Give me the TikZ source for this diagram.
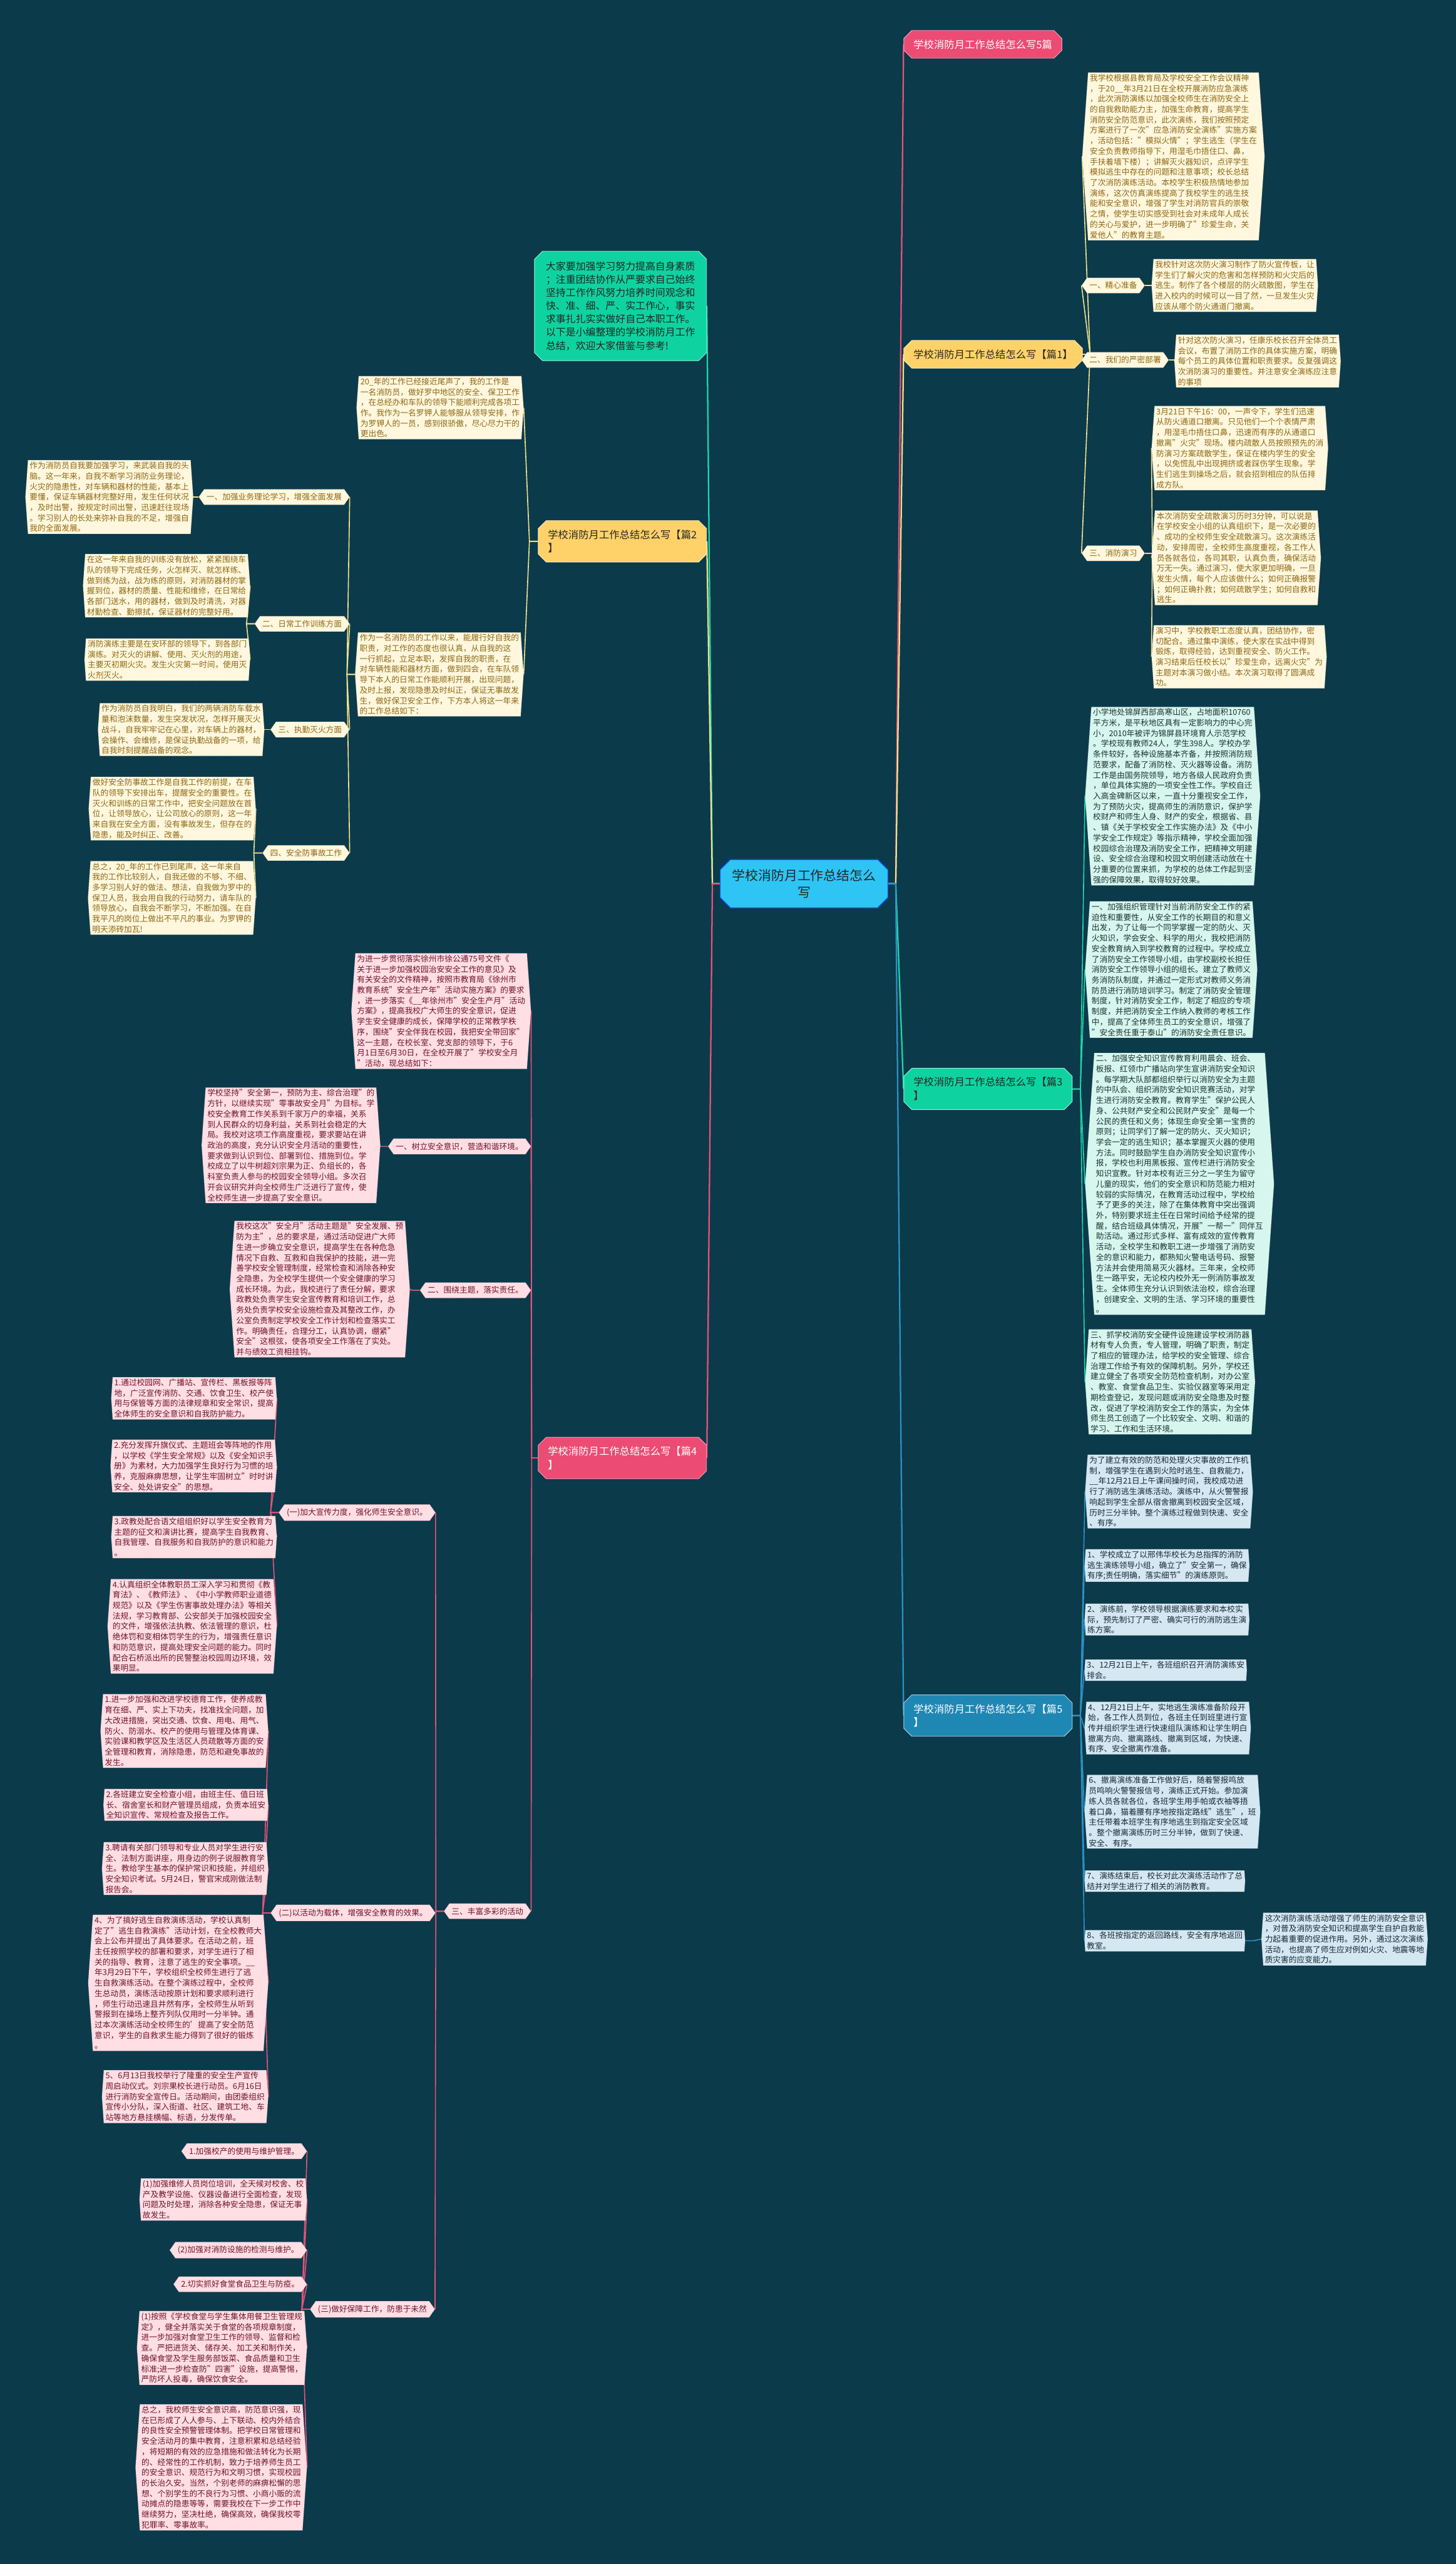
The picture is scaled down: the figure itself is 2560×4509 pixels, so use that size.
\documentclass[tikz,border=0pt]{standalone}
\usepackage{fontspec}
\setmainfont{Noto Sans CJK SC}
\usetikzlibrary{shapes.misc,shapes.symbols,backgrounds}
\definecolor{bgc}{RGB}{11,58,75}
\definecolor{pinkM}{RGB}{236,75,115}
\definecolor{yellowM}{RGB}{255,210,105}
\definecolor{greenM}{RGB}{14,211,160}
\definecolor{blueM}{RGB}{30,135,180}
\definecolor{centerC}{RGB}{46,197,245}
\definecolor{creamY}{RGB}{255,247,222}
\definecolor{txtY}{RGB}{140,105,20}
\definecolor{mintG}{RGB}{215,247,238}
\definecolor{txtG}{RGB}{30,50,50}
\definecolor{lightB}{RGB}{212,232,242}
\definecolor{txtB}{RGB}{25,40,55}
\definecolor{lightP}{RGB}{255,222,228}
\definecolor{txtP}{RGB}{110,20,45}
\definecolor{eY}{RGB}{240,225,140}
\definecolor{eG}{RGB}{30,215,170}
\definecolor{eB}{RGB}{45,145,195}
\definecolor{eP}{RGB}{232,82,120}
\tikzset{
  mainbox/.style={chamfered rectangle, chamfered rectangle xsep=7pt, chamfered rectangle ysep=7pt,
    font=\fontsize{18}{24}\selectfont, align=left, inner xsep=10pt, inner ysep=9pt, line width=1pt},
  small/.style={font=\fontsize{14}{18.4}\selectfont},
  hexbox/.style={signal, signal to=east and west, signal pointer angle=172, small, align=left,
    inner xsep=3pt, inner ysep=3pt, densely dotted, line width=0.5pt},
  hexlab/.style={signal, signal to=east and west, signal pointer angle=110, small,
    inner xsep=4pt, inner ysep=7pt, densely dotted, line width=0.5pt},
  blockY/.style={hexbox, fill=creamY, draw=txtY!50, text=txtY},
  blockG/.style={hexbox, fill=mintG, draw=txtG!50, text=txtG},
  blockB/.style={hexbox, fill=lightB, draw=txtB!50, text=txtB},
  blockP/.style={hexbox, fill=lightP, draw=txtP!50, text=txtP},
  labY/.style={hexlab, fill=creamY, draw=txtY!50, text=txtY},
  labP/.style={hexlab, fill=lightP, draw=txtP!50, text=txtP},
  mainlink/.style={line width=2.5pt},
  sublink/.style={line width=1.8pt}
}
\begin{document}
\begin{tikzpicture}[x=1pt,y=-1pt]
\useasboundingbox (0,0) rectangle (2560,4509);
% centre
\node[chamfered rectangle, chamfered rectangle xsep=9pt, chamfered rectangle ysep=9pt, fill=centerC,
  draw=blue!60!centerC, line width=1.5pt, text=black!85, font=\fontsize{23}{30}\selectfont, align=center,
  minimum width=295pt, minimum height=85pt] (c) at (1414,1554) {学校消防月工作总结怎么\\写};

% right side
\node[mainbox, fill=pinkM, draw=pinkM!50!white, text=white, minimum width=255pt, anchor=west] (n5p) at (1589,78) {学校消防月工作总结怎么写5篇};
\node[mainbox, fill=yellowM, draw=white!60!yellowM, text=black!85, minimum width=288pt, anchor=west] (n1) at (1589,623) {学校消防月工作总结怎么写【篇1】};
\node[blockY, anchor=west] (t1a) at (1903,275) {我学校根据县教育局及学校安全工作会议精神\\，于20\_\_年3月21日在全校开展消防应急演练\\，此次消防演练以加强全校师生在消防安全上\\的自我救助能力主，加强生命教育，提高学生\\消防安全防范意识，此次演练，我们按照预定\\方案进行了一次"应急消防安全演练"实施方案\\，活动包括："模拟火情"；学生逃生（学生在\\安全负责教师指导下，用湿毛巾捂住口、鼻，\\手扶着墙下楼）；讲解灭火器知识，点评学生\\模拟逃生中存在的问题和注意事项；校长总结\\了次消防演练活动。本校学生积极热情地参加\\演练，这次仿真演练提高了我校学生的逃生技\\能和安全意识，增强了学生对消防官兵的崇敬\\之情，使学生切实感受到社会对未成年人成长\\的关心与爱护，进一步明确了"珍爱生命，关\\爱他人"的教育主题。};
\node[labY, anchor=west] (l11) at (1902,502) {一、精心准备};
\node[blockY, anchor=west] (t1b) at (2025,502) {我校针对这次防火演习制作了防火宣传板，让\\学生们了解火灾的危害和怎样预防和火灾后的\\逃生。制作了各个楼层的防火疏散图，学生在\\进入校内的时候可以一目了然，一旦发生火灾\\应该从哪个防火通道门撤离。};
\node[labY, anchor=west] (l12) at (1902,633) {二、我们的严密部署};
\node[blockY, anchor=west] (t1c) at (2065,635) {针对这次防火演习，任康乐校长召开全体员工\\会议，布置了消防工作的具体实施方案，明确\\每个员工的具体位置和职责要求。反复强调这\\次消防演习的重要性。并注意安全演练应注意\\的事项};
\node[labY, anchor=west] (l13) at (1902,973) {三、消防演习};
\node[blockY, anchor=west] (t1d) at (2025,788) {3月21日下午16：00，一声令下，学生们迅速\\从防火通道口撤离。只见他们一个个表情严肃\\，用湿毛巾捂住口鼻，迅速而有序的从通道口\\撤离"火灾"现场。楼内疏散人员按照预先的消\\防演习方案疏散学生，保证在楼内学生的安全\\，以免慌乱中出现拥挤或者踩伤学生现象。学\\生们逃生到操场之后，就会招到相应的队伍排\\成方队。};
\node[blockY, anchor=west] (t1e) at (2025,981) {本次消防安全疏散演习历时3分钟，可以说是\\在学校安全小组的认真组织下，是一次必要的\\、成功的全校师生安全疏散演习。这次演练活\\动，安排周密，全校师生高度重视，各工作人\\员各就各位，各司其职，认真负责，确保活动\\万无一失。通过演习，使大家更加明确，一旦\\发生火情，每个人应该做什么；如何正确报警\\；如何正确扑救；如何疏散学生；如何自救和\\逃生。};
\node[blockY, anchor=west] (t1f) at (2025,1155) {演习中，学校教职工态度认真，团结协作，密\\切配合。通过集中演练，使大家在实战中得到\\锻炼，取得经验，达到重视安全、防火工作。\\演习结束后任校长以"珍爱生命，远离火灾"为\\主题对本演习做小结。本次演习取得了圆满成\\功。};

\node[mainbox, fill=greenM, draw=white!60!greenM, text=black!85, minimum width=290pt, anchor=west] (n3) at (1589,1915) {学校消防月工作总结怎么写【篇3\\】};
\node[blockG, anchor=west] (t3a) at (1908,1400) {小学地处锦屏西部高寒山区，占地面积10760\\平方米，是平秋地区具有一定影响力的中心完\\小，2010年被评为锦屏县环境育人示范学校\\。学校现有教师24人，学生398人。学校办学\\条件较好，各种设施基本齐备，并按照消防规\\范要求，配备了消防栓、灭火器等设备。消防\\工作是由国务院领导，地方各级人民政府负责\\，单位具体实施的一项安全性工作。学校自迁\\入高金碑新区以来，一直十分重视安全工作，\\为了预防火灾，提高师生的消防意识，保护学\\校财产和师生人身、财产的安全，根据省、县\\、镇《关于学校安全工作实施办法》及《中小\\学安全工作规定》等指示精神，学校全面加强\\校园综合治理及消防安全工作，把精神文明建\\设、安全综合治理和校园文明创建活动放在十\\分重要的位置来抓，为学校的总体工作起到坚\\强的保障效果，取得较好效果。};
\node[blockG, anchor=west] (t3b) at (1908,1705) {一、加强组织管理针对当前消防安全工作的紧\\迫性和重要性，从安全工作的长期目的和意义\\出发，为了让每一个同学掌握一定的防火、灭\\火知识，学会安全、科学的用火，我校把消防\\安全教育纳入到学校教育的过程中。学校成立\\了消防安全工作领导小组，由学校副校长担任\\消防安全工作领导小组的组长。建立了教师义\\务消防队制度，并通过一定形式对教师义务消\\防员进行消防培训学习。制定了消防安全管理\\制度，针对消防安全工作，制定了相应的专项\\制度，并把消防安全工作纳入教师的考核工作\\中，提高了全体师生员工的安全意识，增强了\\"安全责任重于泰山"的消防安全责任意识。};
\node[blockG, anchor=west] (t3c) at (1908,2082) {二、加强安全知识宣传教育利用晨会、班会、\\板报、红领巾广播站向学生宣讲消防安全知识\\。每学期大队部都组织举行以消防安全为主题\\的中队会、组织消防安全知识竞赛活动，对学\\生进行消防安全教育。教育学生"保护公民人\\身、公共财产安全和公民财产安全"是每一个\\公民的责任和义务；体现生命安全第一宝贵的\\原则；让同学们了解一定的防火、灭火知识；\\学会一定的逃生知识；基本掌握灭火器的使用\\方法。同时鼓励学生自办消防安全知识宣传小\\报，学校也利用黑板报、宣传栏进行消防安全\\知识宣教。针对本校有近三分之一学生为留守\\儿童的现实，他们的安全意识和防范能力相对\\较弱的实际情况，在教育活动过程中，学校给\\予了更多的关注，除了在集体教育中突出强调\\外，特别要求班主任在日常时间给予经常的提\\醒，结合班级具体情况，开展"一帮一"同伴互\\助活动。通过形式多样、富有成效的宣传教育\\活动，全校学生和教职工进一步增强了消防安\\全的意识和能力，都熟知火警电话号码、报警\\方法并会使用简易灭火器材。三年来，全校师\\生一路平安，无论校内校外无一例消防事故发\\生。全体师生充分认识到依法治校，综合治理\\，创建安全、文明的生活、学习环境的重要性\\。};
\node[blockG, anchor=west] (t3d) at (1908,2430) {三、抓学校消防安全硬件设施建设学校消防器\\材有专人负责，专人管理，明确了职责，制定\\了相应的管理办法，给学校的安全管理、综合\\治理工作给予有效的保障机制。另外，学校还\\建立健全了各项安全防范检查机制，对办公室\\、教室、食堂食品卫生、实验仪器室等采用定\\期检查登记，发现问题或消防安全隐患及时整\\改，促进了学校消防安全工作的落实，为全体\\师生员工创造了一个比较安全、文明、和谐的\\学习、工作和生活环境。};

\node[mainbox, fill=blueM, draw=white!60!blueM, text=white, minimum width=290pt, anchor=west] (n5) at (1589,3017) {学校消防月工作总结怎么写【篇5\\】};
\node[blockB, anchor=west] (t5a) at (1908,2623) {为了建立有效的防范和处理火灾事故的工作机\\制，增强学生在遇到火险时逃生、自救能力，\\\_\_年12月21日上午课间操时间，我校成功进\\行了消防逃生演练活动。演练中，从火警警报\\响起到学生全部从宿舍撤离到校园安全区域，\\历时三分半钟。整个演练过程做到快速、安全\\、有序。};
\node[blockB, anchor=west] (t5b) at (1907,2753) {1、学校成立了以邢伟华校长为总指挥的消防\\逃生演练领导小组，确立了"安全第一，确保\\有序;责任明确，落实细节"的演练原则。};
\node[blockB, anchor=west] (t5c) at (1907,2848) {2、演练前，学校领导根据演练要求和本校实\\际，预先制订了严密、确实可行的消防逃生演\\练方案。};
\node[blockB, anchor=west] (t5d) at (1907,2937) {3、12月21日上午，各班组织召开消防演练安\\排会。};
\node[blockB, anchor=west] (t5e) at (1907,3039) {4、12月21日上午，实地逃生演练准备阶段开\\始，各工作人员到位，各班主任到班里进行宣\\传并组织学生进行快速组队演练和让学生明白\\撤离方向、撤离路线、撤离到区域，为快速、\\有序、安全撤离作准备。};
\node[blockB, anchor=west] (t5f) at (1907,3186) {6、撤离演练准备工作做好后，随着警报鸣放\\员鸣响火警警报信号，演练正式开始。参加演\\练人员各就各位，各班学生用手帕或衣袖等捂\\着口鼻，猫着腰有序地按指定路线"逃生"，班\\主任带着本班学生有序地逃生到指定安全区域\\。整个撤离演练历时三分半钟，做到了快速、\\安全、有序。};
\node[blockB, anchor=west] (t5g) at (1907,3308) {7、演练结束后，校长对此次演练活动作了总\\结并对学生进行了相关的消防教育。};
\node[blockB, anchor=west] (t5h) at (1907,3413) {8、各班按指定的返回路线，安全有序地返回\\教室。};
\node[blockB, anchor=west] (t5i) at (2218,3410) {这次消防演练活动增强了师生的消防安全意识\\，对普及消防安全知识和提高学生自护自救能\\力起着重要的促进作用。另外，通过这次演练\\活动，也提高了师生应对例如火灾、地震等地\\质灾害的应变能力。};

% left side
\node[chamfered rectangle, chamfered rectangle xsep=7pt, chamfered rectangle ysep=7pt, fill=greenM,
  draw=white!60!greenM, line width=1pt, text=black!85, font=\fontsize{17.5}{23.3}\selectfont, align=left,
  inner xsep=13pt, inner ysep=11pt, anchor=east] (intro) at (1243,538) {大家要加强学习努力提高自身素质\\；注重团结协作从严要求自己始终\\坚持工作作风努力培养时间观念和\\快、准、细、严、实工作心，事实\\求事扎扎实实做好自己本职工作。\\以下是小编整理的学校消防月工作\\总结，欢迎大家借鉴与参考!};

\node[mainbox, fill=yellowM, draw=white!60!yellowM, text=black!85, minimum width=292pt, anchor=east] (n2) at (1243,952) {学校消防月工作总结怎么写【篇2\\】};
\node[blockY, anchor=east] (t2a) at (921,717) {20\_年的工作已经接近尾声了，我的工作是\\一名消防员，做好罗中地区的安全、保卫工作\\，在总经办和车队的领导下能顺利完成各项工\\作。我作为一名罗钾人能够服从领导安排，作\\为罗钾人的一员，感到很骄傲，尽心尽力干的\\更出色。};
\node[blockY, anchor=east] (t2e) at (921,1186) {作为一名消防员的工作以来，能履行好自我的\\职责，对工作的态度也很认真，从自我的这\\一行抓起，立足本职，发挥自我的职责，在\\对车辆性能和器材方面，做到四会，在车队领\\导下本人的日常工作能顺利开展，出现问题，\\及时上报，发现隐患及时纠正，保证无事故发\\生，做好保卫安全工作，下方本人将这一年来\\的工作总结如下：};
\node[labY, anchor=east] (l21) at (615,874) {一、加强业务理论学习，增强全面发展};
\node[blockY, anchor=east] (t2b) at (340,874) {作为消防员自我要加强学习，来武装自我的头\\脑。这一年来，自我不断学习消防业务理论，\\火灾的隐患性，对车辆和器材的性能，基本上\\要懂，保证车辆器材完整好用，发生任何状况\\，及时出警，按规定时间出警，迅速赶往现场\\。学习别人的长处来弥补自我的不足，增强自\\我的全面发展。};
\node[labY, anchor=east] (l22) at (615,1097) {二、日常工作训练方面};
\node[blockY, anchor=east] (t2c) at (440,1030) {在这一年来自我的训练没有放松，紧紧围绕车\\队的领导下完成任务，火怎样灭、就怎样练、\\做到练为战，战为练的原则，对消防器材的掌\\握到位，器材的质量、性能和维修，在日常给\\各部门送水，用的器材，做到及时清洗，对器\\材勤检查、勤擦拭，保证器材的完整好用。};
\node[blockY, anchor=east] (t2d) at (440,1160) {消防演练主要是在安环部的领导下，到各部门\\演练。对灭火的讲解、使用、灭火剂的用途，\\主要灭初期火灾。发生火灾第一时间，使用灭\\火剂灭火。};
\node[labY, anchor=east] (l23) at (615,1283) {三、执勤灭火方面};
\node[blockY, anchor=east] (t2f) at (465,1283) {作为消防员自我明白，我们的两辆消防车载水\\量和泡沫数量，发生突发状况，怎样开展灭火\\战斗，自我牢牢记在心里，对车辆上的器材，\\会操作、会维修，是保证执勤战备的一项，给\\自我时刻提醒战备的观念。};
\node[labY, anchor=east] (l24) at (615,1500) {四、安全防事故工作};
\node[blockY, anchor=east] (t2g) at (450,1422) {做好安全防事故工作是自我工作的前提，在车\\队的领导下安排出车，提醒安全的重要性。在\\灭火和训练的日常工作中，把安全问题放在首\\位，让领导放心，让公司放心的原则，这一年\\来自我在安全方面，没有事故发生，但存在的\\隐患，能及时纠正、改善。};
\node[blockY, anchor=east] (t2h) at (450,1579) {总之，20\_年的工作已到尾声，这一年来自\\我的工作比较别人，自我还做的不够、不细、\\多学习别人好的做法、想法，自我做为罗中的\\保卫人员，我会用自我的行动努力，请车队的\\领导放心，自我会不断学习，不断加强。在自\\我平凡的岗位上做出不平凡的事业。为罗钾的\\明天添砖加瓦!};

\node[mainbox, fill=pinkM, draw=pinkM!50!white, text=white, minimum width=292pt, anchor=east] (n4) at (1243,2564) {学校消防月工作总结怎么写【篇4\\】};
\node[blockP, anchor=east] (t4a) at (934,1778) {为进一步贯彻落实徐州市徐公通75号文件《\\关于进一步加强校园治安安全工作的意见》及\\有关安全的文件精神，按照市教育局《徐州市\\教育系统"安全生产年"活动实施方案》的要求\\，进一步落实《\_\_年徐州市"安全生产月"活动\\方案》，提高我校广大师生的安全意识，促进\\学生安全健康的成长，保障学校的正常教学秩\\序，围绕"安全伴我在校园，我把安全带回家"\\这一主题，在校长室、党支部的领导下，于6\\月1日至6月30日，在全校开展了"学校安全月\\"活动，现总结如下：};
\node[labP, anchor=east] (l41) at (934,2016) {一、树立安全意识，营造和谐环境。};
\node[blockP, anchor=east] (t4b) at (669,2014) {学校坚持"安全第一，预防为主、综合治理"的\\方针，以继续实现"零事故安全月"为目标。学\\校安全教育工作关系到千家万户的幸福，关系\\到人民群众的切身利益，关系到社会稳定的大\\局。我校对这项工作高度重视，要求要站在讲\\政治的高度，充分认识安全月活动的重要性，\\要求做到认识到位、部署到位、措施到位。学\\校成立了以牛树超刘宗果为正、负组长的，各\\科室负责人参与的校园安全领导小组。多次召\\开会议研究并向全校师生广泛进行了宣传，使\\全校师生进一步提高了安全意识。};
\node[labP, anchor=east] (l42) at (934,2269) {二、围绕主题，落实责任。};
\node[blockP, anchor=east] (t4c) at (721,2267) {我校这次"安全月"活动主题是"安全发展、预\\防为主"，总的要求是，通过活动促进广大师\\生进一步确立安全意识，提高学生在各种危急\\情况下自救、互救和自我保护的技能，进一完\\善学校安全管理制度，经常检查和消除各种安\\全隐患，为全校学生提供一个安全健康的学习\\成长环境。为此，我校进行了责任分解，要求\\政教处负责学生安全宣传教育和培训工作，总\\务处负责学校安全设施检查及其整改工作，办\\公室负责制定学校安全工作计划和检查落实工\\作。明确责任，合理分工，认真协调，绷紧"\\安全"这根弦，使各项安全工作落在了实处。\\并与绩效工资相挂钩。};
\node[labP, anchor=east] (l43) at (934,3361) {三、丰富多彩的活动};
\node[labP, anchor=east] (l4a) at (766,2660) {(一)加大宣传力度，强化师生安全意识。};
\node[blockP, anchor=east] (t4d) at (487,2459) {1.通过校园网、广播站、宣传栏、黑板报等阵\\地，广泛宣传消防、交通、饮食卫生、校产使\\用与保管等方面的法律规章和安全常识，提高\\全体师生的安全意识和自我防护能力。};
\node[blockP, anchor=east] (t4e) at (487,2578) {2.充分发挥升旗仪式、主题班会等阵地的作用\\，以学校《学生安全常规》以及《安全知识手\\册》为素材，大力加强学生良好行为习惯的培\\养，克服麻痹思想，让学生牢固树立"时时讲\\安全、处处讲安全"的思想。};
\node[blockP, anchor=east] (t4f) at (487,2703) {3.政教处配合语文组组织好以学生安全教育为\\主题的征文和演讲比赛，提高学生自我教育、\\自我管理、自我服务和自我防护的意识和能力\\。};
\node[blockP, anchor=east] (t4g) at (487,2860) {4.认真组织全体教职员工深入学习和贯彻《教\\育法》、《教师法》、《中小学教师职业道德\\规范》以及《学生伤害事故处理办法》等相关\\法规，学习教育部、公安部关于加强校园安全\\的文件，增强依法执教、依法管理的意识，杜\\绝体罚和变相体罚学生的行为，增强责任意识\\和防范意识，提高处理安全问题的能力。同时\\配合石桥派出所的民警整治校园周边环境，效\\果明显。};
\node[labP, anchor=east] (l4b) at (766,3364) {(二)以活动为载体，增强安全教育的效果。};
\node[blockP, anchor=east] (t4h) at (472,3044) {1.进一步加强和改进学校德育工作，使养成教\\育在细、严、实上下功夫，找准找全问题，加\\大改进措施，突出交通、饮食、用电、用气、\\防火、防溺水、校产的使用与管理及体育课、\\实验课和教学区及生活区人员疏散等方面的安\\全管理和教育，消除隐患，防范和避免事故的\\发生。};
\node[blockP, anchor=east] (t4i) at (472,3174) {2.各班建立安全检查小组，由班主任、值日班\\长、宿舍室长和财产管理员组成，负责本班安\\全知识宣传、常规检查及报告工作。};
\node[blockP, anchor=east] (t4j) at (472,3286) {3.聘请有关部门领导和专业人员对学生进行安\\全、法制方面讲座，用身边的例子说服教育学\\生。教给学生基本的保护常识和技能，并组织\\安全知识考试。5月24日，警官宋成刚做法制\\报告会。};
\node[blockP, anchor=east] (t4k) at (472,3487) {4、为了搞好逃生自救演练活动，学校认真制\\定了"逃生自救演练"活动计划，在全校教师大\\会上公布并提出了具体要求。在活动之前，班\\主任按照学校的部署和要求，对学生进行了相\\关的指导、教育，注意了逃生的安全事项。\_\_\\年3月29日下午，学校组织全校师生进行了逃\\生自救演练活动。在整个演练过程中，全校师\\生总动员，演练活动按原计划和要求顺利进行\\，师生行动迅速且井然有序，全校师生从听到\\警报到在操场上整齐列队仅用时一分半钟。通\\过本次演练活动全校师生的'提高了安全防范\\意识，学生的自救求生能力得到了很好的锻炼\\。};
\node[blockP, anchor=east] (t4l) at (472,3687) {5、6月13日我校举行了隆重的安全生产宣传\\周启动仪式。刘宗果校长进行动员。6月16日\\进行消防安全宣传日。活动期间，由团委组织\\宣传小分队，深入街道、社区、建筑工地、车\\站等地方悬挂横幅、标语，分发传单。};
\node[labP, anchor=east] (l4c) at (765,4061) {(三)做好保障工作，防患于未然};
\node[labP, anchor=east] (t4m) at (540,3783) {1.加强校产的使用与维护管理。};
\node[blockP, anchor=east] (t4n) at (540,3868) {(1)加强维修人员岗位培训，全天候对校舍、校\\产及教学设施、仪器设备进行全面检查，发现\\问题及时处理，消除各种安全隐患，保证无事\\故发生。};
\node[labP, anchor=east] (t4o) at (540,3957) {(2)加强对消防设施的检测与维护。};
\node[labP, anchor=east] (t4p) at (540,4017) {2.切实抓好食堂食品卫生与防疫。};
\node[blockP, anchor=east] (t4q) at (540,4129) {(1)按照《学校食堂与学生集体用餐卫生管理规\\定》，健全并落实关于食堂的各项规章制度，\\进一步加强对食堂卫生工作的领导、监督和检\\查。严把进货关、储存关、加工关和制作关，\\确保食堂及学生服务部饭菜、食品质量和卫生\\标准;进一步检查防"四害"设施，提高警惕，\\严防坏人投毒，确保饮食安全。};
\node[blockP, anchor=east] (t4r) at (540,4339) {总之，我校师生安全意识高，防范意识强，现\\在已形成了人人参与、上下联动、校内外结合\\的良性安全预警管理体制。把学校日常管理和\\安全活动月的集中教育，注意积累和总结经验\\，将短期的有效的应急措施和做法转化为长期\\的、经常性的工作机制，致力于培养师生员工\\的安全意识、规范行为和文明习惯，实现校园\\的长治久安。当然，个别老师的麻痹松懈的思\\想、个别学生的不良行为习惯、小商小贩的流\\动摊点的隐患等等，需要我校在下一步工作中\\继续努力，坚决杜绝，确保高效，确保我校零\\犯罪率、零事故率。};

% links
\begin{pgfonlayer}{background}
\fill[bgc] (0,0) rectangle (2560,4509);
\draw[eP,mainlink] (c.east) -- ++(13,0) -- (n5p.west);
\draw[eY,mainlink] (c.east) -- ++(13,0) -- (n1.west);
\draw[eG,mainlink] (c.east) -- ++(13,0) -- (n3.west);
\draw[eB,mainlink] (c.east) -- ++(13,0) -- (n5.west);
\draw[eG,mainlink] (c.west) -- ++(-13,0) -- (intro.east);
\draw[eY,mainlink] (c.west) -- ++(-13,0) -- (n2.east);
\draw[eP,mainlink] (c.west) -- ++(-13,0) -- (n4.east);
\foreach \k in {t1a,l11,l12,l13} \draw[eY,sublink] (n1.east) -- ++(13,0) -- (\k.west);
\draw[eY,sublink] (l11.east) -- ++(13,0) -- (t1b.west);
\draw[eY,sublink] (l12.east) -- ++(13,0) -- (t1c.west);
\foreach \k in {t1d,t1e,t1f} \draw[eY,sublink] (l13.east) -- ++(13,0) -- (\k.west);
\foreach \k in {t3a,t3b,t3c,t3d} \draw[eG,sublink] (n3.east) -- ++(14,0) -- (\k.west);
\foreach \k in {t5a,t5b,t5c,t5d,t5e,t5f,t5g,t5h} \draw[eB,sublink] (n5.east) -- ++(14,0) -- (\k.west);
\draw[eB,sublink] (t5h.east) -- ++(14,0) -- (t5i.west);
\foreach \k in {t2a,t2e} \draw[eY,sublink] (n2.west) -- ++(-15,0) -- (\k.east);
\foreach \k in {l21,l22,l23,l24} \draw[eY,sublink] (t2e.west) -- ++(-14,0) -- (\k.east);
\draw[eY,sublink] (l21.west) -- ++(-15,0) -- (t2b.east);
\foreach \k in {t2c,t2d} \draw[eY,sublink] (l22.west) -- ++(-14,0) -- (\k.east);
\draw[eY,sublink] (l23.west) -- ++(-14,0) -- (t2f.east);
\foreach \k in {t2g,t2h} \draw[eY,sublink] (l24.west) -- ++(-15,0) -- (\k.east);
\foreach \k in {t4a,l41,l42,l43} \draw[eP,sublink] (n4.west) -- ++(-11,0) -- (\k.east);
\draw[eP,sublink] (l41.west) -- ++(-14,0) -- (t4b.east);
\draw[eP,sublink] (l42.west) -- ++(-14,0) -- (t4c.east);
\foreach \k in {l4a,l4b,l4c} \draw[eP,sublink] (l43.west) -- ++(-14,0) -- (\k.east);
\foreach \k in {t4d,t4e,t4f,t4g} \draw[eP,sublink] (l4a.west) -- ++(-14,0) -- (\k.east);
\foreach \k in {t4h,t4i,t4j,t4k,t4l} \draw[eP,sublink] (l4b.west) -- ++(-14,0) -- (\k.east);
\foreach \k in {t4m,t4n,t4o,t4p,t4q,t4r} \draw[eP,sublink] (l4c.west) -- ++(-14,0) -- (\k.east);
\end{pgfonlayer}
\end{tikzpicture}
\end{document}
